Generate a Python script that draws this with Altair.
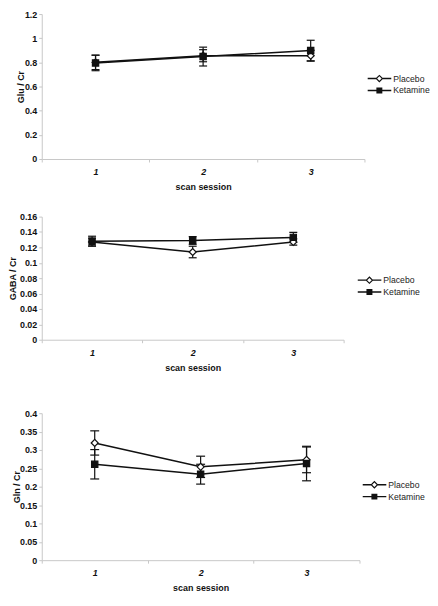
import altair as alt
import pandas as pd

sessions = ["1", "2", "3"]
groups = ["Placebo", "Ketamine"]

glu_placebo = [0.800, 0.855, 0.855]
glu_placebo_err = [0.060, 0.050, 0.045]
glu_ketamine = [0.795, 0.848, 0.898]
glu_ketamine_err = [0.064, 0.078, 0.085]

gaba_placebo = [0.127, 0.114, 0.127]
gaba_placebo_err = [0.005, 0.0075, 0.004]
gaba_ketamine = [0.128, 0.129, 0.133]
gaba_ketamine_err = [0.0065, 0.005, 0.0065]

gln_placebo = [0.319, 0.254, 0.273]
gln_placebo_err = [0.033, 0.029, 0.035]
gln_ketamine = [0.261, 0.234, 0.263]
gln_ketamine_err = [0.040, 0.027, 0.047]

FONT = "Liberation Sans"
INK = "#111111"
AXC = "#c8c8c8"

# legend symbols: a line with a marker, drawn as filled shapes in the [-1,1] box
PATH_PLACEBO = ("M-1,-0.06H-0.28V0.06H-1Z"
                "M0.28,-0.06H1V0.06H0.28Z"
                "M0,-0.33L0.33,0L0,0.33L-0.33,0Z"
                "M0,-0.19L-0.19,0L0,0.19L0.19,0Z")
PATH_KETAMINE = ("M-1,-0.06H1V0.06H-1Z"
                 "M-0.25,-0.25H0.25V0.25H-0.25Z")


def frame(p, pe, k, ke):
    rows = []
    for g, vals, errs in (("Placebo", p, pe), ("Ketamine", k, ke)):
        for s, v, e in zip(sessions, vals, errs):
            rows.append({"session": s, "group": g, "value": v,
                         "lo": v - e, "hi": v + e})
    return pd.DataFrame(rows)


def panel(df, ytitle, ymax, ticks, fmt, width, height, tpad, sizes, capw,
          lx, ly):
    xenc = alt.X("session:O",
                 scale=alt.Scale(type="band", domain=sessions,
                                 paddingInner=0, paddingOuter=0),
                 axis=alt.Axis(title="scan session", labelAngle=0,
                               tickBand="extent", tickSize=3,
                               labelPadding=5.5, titlePadding=6,
                               labelFontStyle="italic"))
    yaxis = alt.Axis(title=ytitle, values=ticks, format=fmt, tickSize=3,
                     labelPadding=2, titlePadding=tpad)
    yscale = alt.Scale(domain=[0, ymax], nice=False, zero=True)

    base = alt.Chart(df)
    lines = base.mark_line(color=INK, strokeWidth=1.5).encode(
        x=xenc, y=alt.Y("value:Q", scale=yscale, axis=yaxis),
        detail="group:N")
    bars = base.mark_rule(color=INK, strokeWidth=1.2).encode(
        x=xenc, y=alt.Y("lo:Q", scale=yscale, axis=yaxis), y2="hi:Q")
    cap_lo = base.mark_tick(color=INK, size=capw, thickness=1.2,
                            opacity=1, orient="horizontal").encode(
        x=xenc, y=alt.Y("lo:Q", scale=yscale, axis=yaxis))
    cap_hi = base.mark_tick(color=INK, size=capw, thickness=1.2,
                            opacity=1, orient="horizontal").encode(
        x=xenc, y=alt.Y("hi:Q", scale=yscale, axis=yaxis))
    pts = base.mark_point(filled=True, stroke=INK, strokeWidth=1.2,
                          opacity=1).encode(
        x=xenc, y=alt.Y("value:Q", scale=yscale, axis=yaxis),
        shape=alt.Shape("group:N", scale=alt.Scale(domain=groups,
                        range=["diamond", "square"]), legend=None),
        fill=alt.Fill("group:N", scale=alt.Scale(domain=groups,
                      range=["white", INK]), legend=None),
        size=alt.Size("group:N", scale=alt.Scale(domain=groups,
                      range=sizes), legend=None),
    )
    leg = alt.Legend(title=None, orient="none", legendX=lx, legendY=ly,
                     direction="vertical", labelFont=FONT, labelFontSize=8.7,
                     labelColor="#222222", symbolSize=576, clipHeight=10,
                     rowPadding=2, labelOffset=2, padding=0,
                     symbolStrokeWidth=0)
    legend_layer = base.transform_filter("false").mark_point(
        filled=True, color=INK, strokeWidth=0, opacity=1).encode(
        x=xenc, y=alt.Y("value:Q", scale=yscale, axis=yaxis),
        shape=alt.Shape("group:N", scale=alt.Scale(domain=groups,
                        range=[PATH_PLACEBO, PATH_KETAMINE]), legend=leg),
    )
    return alt.layer(lines, bars, cap_lo, cap_hi, pts, legend_layer).resolve_scale(
        shape="independent").properties(width=width, height=height)


glu = frame(glu_placebo, glu_placebo_err, glu_ketamine, glu_ketamine_err)
gaba = frame(gaba_placebo, gaba_placebo_err, gaba_ketamine, gaba_ketamine_err)
gln = frame(gln_placebo, gln_placebo_err, gln_ketamine, gln_ketamine_err)

p1 = panel(glu, "Glu / Cr", 1.2, [0, 0.2, 0.4, 0.6, 0.8, 1.0, 1.2], ".1~f",
           325, 146, -1.5, [50, 40], 8, 328, 60)
p2 = panel(gaba, "GABA / Cr", 0.16,
           [0, 0.02, 0.04, 0.06, 0.08, 0.1, 0.12, 0.14, 0.16], ".2~f",
           304, 124, 1.5, [40, 45], 8, 318, 59)
p3 = panel(gln, "Gln / Cr", 0.4,
           [0, 0.05, 0.1, 0.15, 0.2, 0.25, 0.3, 0.35, 0.4], ".2~f",
           320, 148, -2, [40, 80], 9, 323, 67)

top_two = alt.concat(p1, p2, columns=1, align="none", spacing=21)

chart = alt.concat(top_two, p3, columns=1, align="none", spacing=37,
                   padding={"left": 0, "top": 0, "right": 0, "bottom": 0}
).configure_view(stroke=None).configure_axis(
    grid=False, domainColor=AXC, tickColor=AXC, domainWidth=1,
    labelFont=FONT, labelFontSize=9, labelFontWeight="bold",
    labelColor="#111111", titleFont=FONT, titleFontSize=9,
    titleFontWeight="bold", titleColor="#111111"
)

chart.save("out.html", embed_options={"renderer": "svg", "actions": False})
